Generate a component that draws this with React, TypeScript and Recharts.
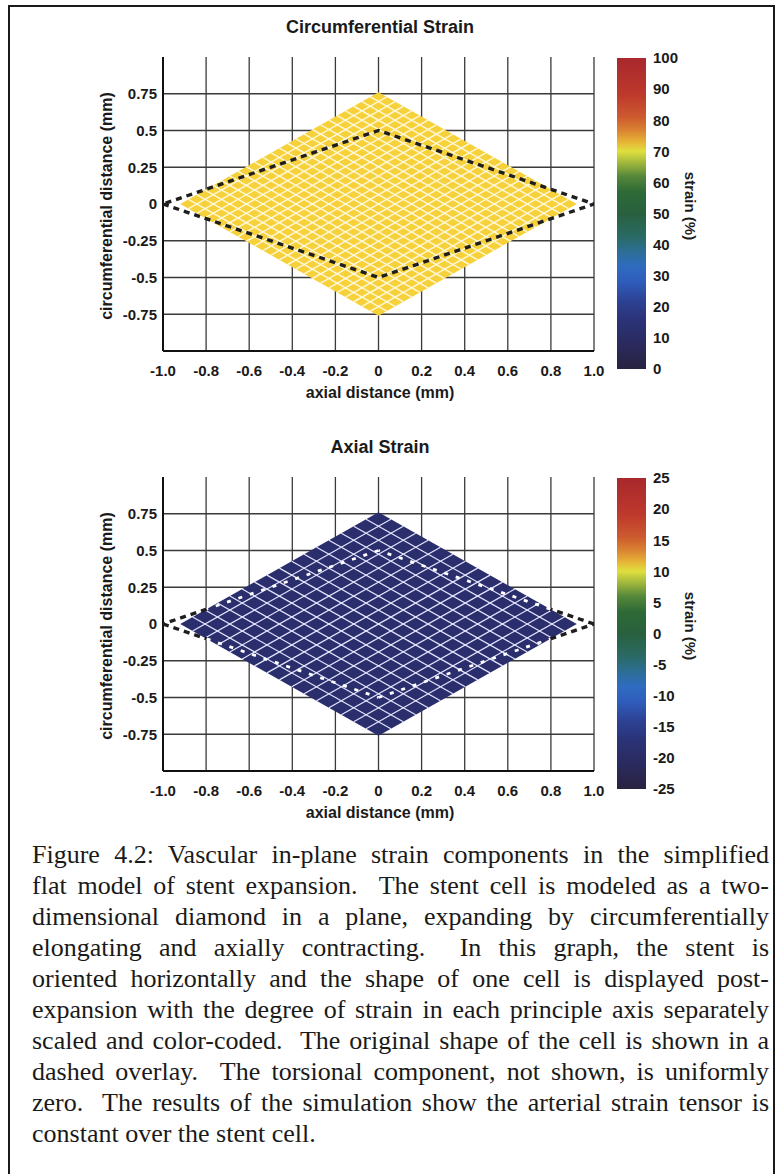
import React from 'react';
import { ComposedChart, Scatter, Area, XAxis, YAxis, ReferenceLine, BarChart, Bar } from 'recharts';

type Pt = { x: number; y: number };

// ---------------- data ----------------
const xTicks = [-1.0, -0.8, -0.6, -0.4, -0.2, 0, 0.2, 0.4, 0.6, 0.8, 1.0];
const xTickLabels = ['-1.0', '-0.8', '-0.6', '-0.4', '-0.2', '0', '0.2', '0.4', '0.6', '0.8', '1.0'];
const xGridValues = [-0.8, -0.6, -0.4, -0.2, 0, 0.2, 0.4, 0.6, 0.8, 1.0];
const yTicks = [0.75, 0.5, 0.25, 0, -0.25, -0.5, -0.75];
const yTickLabels = ['0.75', '0.5', '0.25', '0', '-0.25', '-0.5', '-0.75'];
const yGridValues = [0.75, 0.5, 0.25, -0.25, -0.5, -0.75];

// expanded (deformed) stent cell: left, bottom, right, top
const deformedCell: Pt[] = [
  { x: -0.92, y: 0 },
  { x: 0, y: -0.76 },
  { x: 0.92, y: 0 },
  { x: 0, y: 0.76 },
];
// original cell (dashed overlay): left, bottom, right, top
const originalCell: Pt[] = [
  { x: -1.0, y: 0 },
  { x: 0, y: -0.5 },
  { x: 1.0, y: 0 },
  { x: 0, y: 0.5 },
];

const circMeshDivisions = 24;
const axialMeshDivisions = 16;

const circScaleTicks = [0, 10, 20, 30, 40, 50, 60, 70, 80, 90, 100];
const circScaleLabels = ['0', '10', '20', '30', '40', '50', '60', '70', '80', '90', '100'];
const axialScaleTicks = [-25, -20, -15, -10, -5, 0, 5, 10, 15, 20, 25];
const axialScaleLabels = ['-25', '-20', '-15', '-10', '-5', '0', '5', '10', '15', '20', '25'];

const captionLines = [
  'Figure 4.2: Vascular in-plane strain components in the simplified',
  'flat model of stent expansion.\u00a0 The stent cell is modeled as a two-',
  'dimensional diamond in a plane, expanding by circumferentially',
  'elongating and axially contracting.\u00a0 In this graph, the stent is',
  'oriented horizontally and the shape of one cell is displayed post-',
  'expansion with the degree of strain in each principle axis separately',
  'scaled and color-coded.\u00a0 The original shape of the cell is shown in a',
  'dashed overlay.\u00a0 The torsional component, not shown, is uniformly',
  'zero.\u00a0 The results of the simulation show the arterial strain tensor is',
  'constant over the stent cell.',
];

// ---------------- styles ----------------
const SANS = '"Liberation Sans", Arial, Helvetica, sans-serif';
const SERIF = '"Liberation Serif", "Times New Roman", Times, serif';
const TEXT = '#1a1a1a';

const colorStops = [
  { o: 0.0, c: '#29233f' },
  { o: 0.08, c: '#2a2a5e' },
  { o: 0.16, c: '#2b3378' },
  { o: 0.22, c: '#2d4294' },
  { o: 0.28, c: '#2f5cbc' },
  { o: 0.33, c: '#2f6cc0' },
  { o: 0.38, c: '#2c6e92' },
  { o: 0.43, c: '#2a6a62' },
  { o: 0.5, c: '#28603e' },
  { o: 0.57, c: '#2e6a36' },
  { o: 0.62, c: '#56883a' },
  { o: 0.66, c: '#9cb43c' },
  { o: 0.7, c: '#e0df3e' },
  { o: 0.73, c: '#e6b436' },
  { o: 0.77, c: '#d98032' },
  { o: 0.81, c: '#cc5a2e' },
  { o: 0.88, c: '#be3a2c' },
  { o: 1.0, c: '#a8282c' },
];

// layout of a panel
const MAIN_W = 622;
const MAIN_H = 410;
const MARGIN = { top: 57, right: 28, bottom: 9, left: 93 };
const Y_AXIS_W = 70;
const X_AXIS_H = 50;
const PLOT_L = MARGIN.left + Y_AXIS_W;
const PLOT_R = MAIN_W - MARGIN.right;
const PLOT_T = MARGIN.top;
const PLOT_B = MAIN_H - MARGIN.bottom - X_AXIS_H;

// ---------------- geometry helpers ----------------
function lerp(p: Pt, q: Pt, t: number): Pt {
  return { x: p.x + (q.x - p.x) * t, y: p.y + (q.y - p.y) * t };
}

function meshSegments(cell: Pt[], n: number): Pt[][] {
  const [L, B, R, T] = cell;
  const segs: Pt[][] = [];
  for (let k = 1; k < n; k++) {
    const t = k / n;
    segs.push([lerp(L, B, t), lerp(T, R, t)]);
    segs.push([lerp(L, T, t), lerp(B, R, t)]);
  }
  return segs;
}

function clipSegment(p0: Pt, p1: Pt, poly: Pt[]): [number, number] | null {
  let tE = 0;
  let tL = 1;
  const d = { x: p1.x - p0.x, y: p1.y - p0.y };
  for (let i = 0; i < poly.length; i++) {
    const a = poly[i];
    const b = poly[(i + 1) % poly.length];
    const n = { x: -(b.y - a.y), y: b.x - a.x };
    const num = n.x * (p0.x - a.x) + n.y * (p0.y - a.y);
    const den = n.x * d.x + n.y * d.y;
    if (Math.abs(den) < 1e-12) {
      if (num < 0) return null;
      continue;
    }
    const t = -num / den;
    if (den > 0) tE = Math.max(tE, t);
    else tL = Math.min(tL, t);
    if (tE > tL) return null;
  }
  return [tE, tL];
}

function splitOverlay(orig: Pt[], cell: Pt[]) {
  const inside: Pt[][] = [];
  const outside: Pt[][] = [];
  for (let i = 0; i < orig.length; i++) {
    const p0 = orig[i];
    const p1 = orig[(i + 1) % orig.length];
    const c = clipSegment(p0, p1, cell);
    if (!c) {
      outside.push([p0, p1]);
      continue;
    }
    const [a, b] = c;
    if (a > 1e-6) outside.push([p0, lerp(p0, p1, a)]);
    if (b - a > 1e-6) inside.push([lerp(p0, p1, a), lerp(p0, p1, b)]);
    if (b < 1 - 1e-6) outside.push([lerp(p0, p1, b), p1]);
  }
  return { inside, outside };
}

const NoPoint = () => <g />;

function labelFor(values: number[], labels: string[]) {
  return (v: number) => {
    let best = 0;
    for (let i = 0; i < values.length; i++) {
      if (Math.abs(values[i] - v) < Math.abs(values[best] - v)) best = i;
    }
    return labels[best];
  };
}

const tickStyle = { fontSize: 15, fontWeight: 700, fill: TEXT, fontFamily: SANS };

// ---------------- panel ----------------
type PanelProps = {
  top: number;
  title: string;
  fill: string;
  meshColor: string;
  meshWidth: number;
  meshN: number;
  split: boolean;
  scaleTicks: number[];
  scaleLabels: string[];
  gradId: string;
};

function StrainPanel(p: PanelProps) {
  const [L, B, R, T] = deformedCell;
  const areaData = [
    { x: L.x, band: [L.y, L.y] },
    { x: T.x, band: [B.y, T.y] },
    { x: R.x, band: [R.y, R.y] },
  ];
  const mesh = meshSegments(deformedCell, p.meshN);
  const closedOriginal = [...originalCell, originalCell[0]];
  const { inside, outside } = splitOverlay(originalCell, deformedCell);
  const scaleData = [{ name: 'scale', range: [p.scaleTicks[0], p.scaleTicks[p.scaleTicks.length - 1]] }];
  const cx = (PLOT_L + PLOT_R) / 2;
  const cy = (PLOT_T + PLOT_B) / 2;

  return (
    <div style={{ position: 'absolute', left: 0, top: p.top, width: 776, height: MAIN_H }}>
      <div style={{ position: 'absolute', left: 0, top: 0 }}>
        <ComposedChart width={MAIN_W} height={MAIN_H} data={areaData} margin={MARGIN}>
          {yGridValues.map((v) => (
            <ReferenceLine key={'gy' + v} y={v} stroke="#3a3a3a" strokeWidth={1.3} ifOverflow="visible" zIndex={-50} />
          ))}
          {xGridValues.map((v) => (
            <ReferenceLine key={'gx' + v} x={v} stroke="#3a3a3a" strokeWidth={1.3} ifOverflow="visible" zIndex={-50} />
          ))}
          <XAxis
            type="number"
            dataKey="x"
            domain={[-1, 1]}
            allowDataOverflow
            ticks={xTicks}
            interval={0}
            tickFormatter={labelFor(xTicks, xTickLabels)}
            axisLine={{ stroke: '#111', strokeWidth: 2 }}
            tickLine={false}
            tickSize={6}
            tickMargin={8}
            height={X_AXIS_H}
            tick={tickStyle}
          />
          <YAxis
            type="number"
            dataKey="y"
            domain={[-1, 1]}
            allowDataOverflow
            ticks={yTicks}
            interval={0}
            tickFormatter={labelFor(yTicks, yTickLabels)}
            axisLine={{ stroke: '#111', strokeWidth: 2 }}
            tickLine={false}
            tickSize={4}
            tickMargin={2}
            width={Y_AXIS_W}
            tick={tickStyle}
          />
          <Area
            dataKey="band"
            type="linear"
            stroke="none"
            fill={p.fill}
            fillOpacity={1}
            dot={false}
            activeDot={false}
            isAnimationActive={false}
          />
          {mesh.map((seg, i) => (
            <Scatter
              key={'m' + i}
              data={seg}
              fill={p.meshColor}
              line={{ stroke: p.meshColor, strokeWidth: p.meshWidth }}
              lineType="joint"
              shape={NoPoint}
              isAnimationActive={false}
            />
          ))}
          {!p.split && (
            <Scatter
              data={closedOriginal}
              fill="#1e1e1e"
              line={{ stroke: '#1e1e1e', strokeWidth: 3.4, strokeDasharray: '6 5' }}
              lineType="joint"
              shape={NoPoint}
              isAnimationActive={false}
            />
          )}
          {p.split &&
            outside.map((seg, i) => (
              <Scatter
                key={'o' + i}
                data={seg}
                fill="#1e1e1e"
                line={{ stroke: '#1e1e1e', strokeWidth: 3.4, strokeDasharray: '6 5' }}
                lineType="joint"
                shape={NoPoint}
                isAnimationActive={false}
              />
            ))}
          {p.split &&
            inside.map((seg, i) => (
              <Scatter
                key={'i' + i}
                data={seg}
                fill="#ffffff"
                line={{ stroke: '#ffffff', strokeWidth: 2.8, strokeDasharray: '4 8' }}
                lineType="joint"
                shape={NoPoint}
                isAnimationActive={false}
              />
            ))}
          <text x={cx + 1.5} y={27} textAnchor="middle" dominantBaseline="central" fontFamily={SANS} fontWeight={700} fontSize={18} fill={TEXT}>
            {p.title}
          </text>
          <text x={cx + 1.5} y={392} textAnchor="middle" dominantBaseline="central" fontFamily={SANS} fontWeight={700} fontSize={16} fill={TEXT}>
            axial distance (mm)
          </text>
          <text
            x={106}
            y={cy + 2}
            transform={`rotate(-90 106 ${cy + 2})`}
            textAnchor="middle"
            dominantBaseline="central"
            fontFamily={SANS}
            fontWeight={700}
            fontSize={16}
            fill={TEXT}
          >
            circumferential distance (mm)
          </text>
        </ComposedChart>
      </div>
      <div style={{ position: 'absolute', left: 600, top: 0 }}>
        <BarChart width={176} height={MAIN_H} data={scaleData} margin={{ top: 58, right: 40, bottom: 41, left: 17 }} barCategoryGap={0}>
          <defs>
            <linearGradient id={p.gradId} x1="0" y1="1" x2="0" y2="0">
              {colorStops.map((s) => (
                <stop key={s.o} offset={`${s.o * 100}%`} stopColor={s.c} />
              ))}
            </linearGradient>
          </defs>
          <XAxis dataKey="name" type="category" hide />
          <YAxis
            orientation="right"
            type="number"
            domain={[p.scaleTicks[0], p.scaleTicks[p.scaleTicks.length - 1]]}
            ticks={p.scaleTicks}
            interval={0}
            tickFormatter={labelFor(p.scaleTicks, p.scaleLabels)}
            axisLine={false}
            tickLine={false}
            tickSize={5}
            tickMargin={2}
            width={90}
            tick={{ ...tickStyle, textAnchor: 'start' }}
          />
          <Bar dataKey="range" fill={`url(#${p.gradId})`} isAnimationActive={false} />
          <text
            x={90}
            y={206}
            transform={`rotate(90 90 206)`}
            textAnchor="middle"
            dominantBaseline="central"
            fontFamily={SANS}
            fontWeight={700}
            fontSize={15}
            fill={TEXT}
          >
            strain (%)
          </text>
        </BarChart>
      </div>
    </div>
  );
}

export default function App() {
  return (
    <div
      style={{
        position: 'absolute',
        left: 0,
        top: 0,
        width: 776,
        height: 1174,
        overflow: 'hidden',
        background: '#ffffff',
      }}
    >
      <div
        style={{
          position: 'absolute',
          left: 8,
          top: 5,
          width: 767,
          height: 1300,
          border: '2.5px solid #1a1a1a',
          boxSizing: 'border-box',
        }}
      />
      <StrainPanel
        top={0}
        title="Circumferential Strain"
        fill="#f6d13a"
        meshColor="#fff7d6"
        meshWidth={1.5}
        meshN={circMeshDivisions}
        split={false}
        scaleTicks={circScaleTicks}
        scaleLabels={circScaleLabels}
        gradId="gradCirc"
      />
      <StrainPanel
        top={420}
        title="Axial Strain"
        fill="#2b2e6c"
        meshColor="#e4e6ff"
        meshWidth={1.2}
        meshN={axialMeshDivisions}
        split={true}
        scaleTicks={axialScaleTicks}
        scaleLabels={axialScaleLabels}
        gradId="gradAxial"
      />
      {captionLines.map((line, i) => {
        const last = i === captionLines.length - 1;
        return (
          <div
            key={i}
            style={{
              position: 'absolute',
              left: 32,
              top: 838.7 + i * 31,
              width: 737,
              fontFamily: SERIF,
              fontSize: 26,
              lineHeight: '31px',
              color: TEXT,
              textAlign: last ? 'left' : 'justify',
              textAlignLast: last ? 'left' : 'justify',
            }}
          >
            {line}
          </div>
        );
      })}
    </div>
  );
}
